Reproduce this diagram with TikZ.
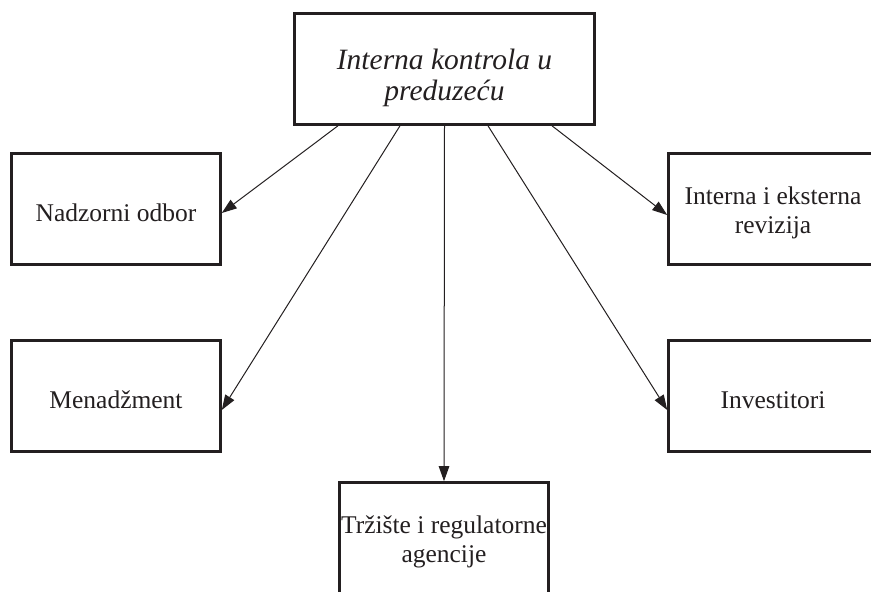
\documentclass[tikz,border=0pt]{standalone}
\usepackage{fontspec}
\setmainfont{Liberation Serif}
\usetikzlibrary{arrows.meta,calc}
\definecolor{ink}{RGB}{35,31,32}
\tikzset{
  box/.style={draw=ink, line width=2.6pt, rectangle, inner sep=0pt,
    minimum width=209pt, minimum height=111pt},
  topbox/.style={box, minimum width=300pt},
  txt/.style={align=center, text=ink, inner sep=0pt, yshift=-4pt,
    font=\fontsize{25.5}{29.5}\selectfont},
  toptxt/.style={txt, yshift=-5pt, font=\fontsize{29.5}{31}\itshape\selectfont},
  conn/.style={draw=ink, line width=1pt, -{Triangle[length=15pt,width=10.5pt]}}
}
\begin{document}
\begin{tikzpicture}[x=1pt,y=-1pt]
\useasboundingbox (0,0) rectangle (871,592);
\clip (0,0) rectangle (871,592);
\node[topbox, label={[toptxt]center:Interna kontrola u\\preduzeću}] (top) at (444.5,69) {};
\node[box, label={[txt]center:Nadzorni odbor}] (nad) at (116,209) {};
\node[box, label={[txt]center:Menadžment}] (men) at (116,396) {};
\node[box, label={[txt]center:Interna i eksterna\\revizija}] (rev) at (773,209) {};
\node[box, label={[txt]center:Investitori}] (inv) at (773,396) {};
\node[box, label={[txt]center:Tržište i regulatorne\\agencije}] (trz) at (444,538) {};
\coordinate (s1) at ([xshift=-106.5pt]top.south);
\coordinate (s2) at ([xshift=-44.5pt]top.south);
\coordinate (s3) at ([xshift=0pt]top.south);
\coordinate (s4) at ([xshift=43.5pt]top.south);
\coordinate (s5) at ([xshift=107.5pt]top.south);
\draw[conn] (s1) -- ([yshift=-4pt]nad.east);
\draw[conn] (s2) -- ([yshift=-14pt]men.east);
\draw[conn] (s3) -- (trz.north);
\draw[conn] (s4) -- ([yshift=-14pt]inv.west);
\draw[conn] (s5) -- ([yshift=-6pt]rev.west);
\end{tikzpicture}
\end{document}
